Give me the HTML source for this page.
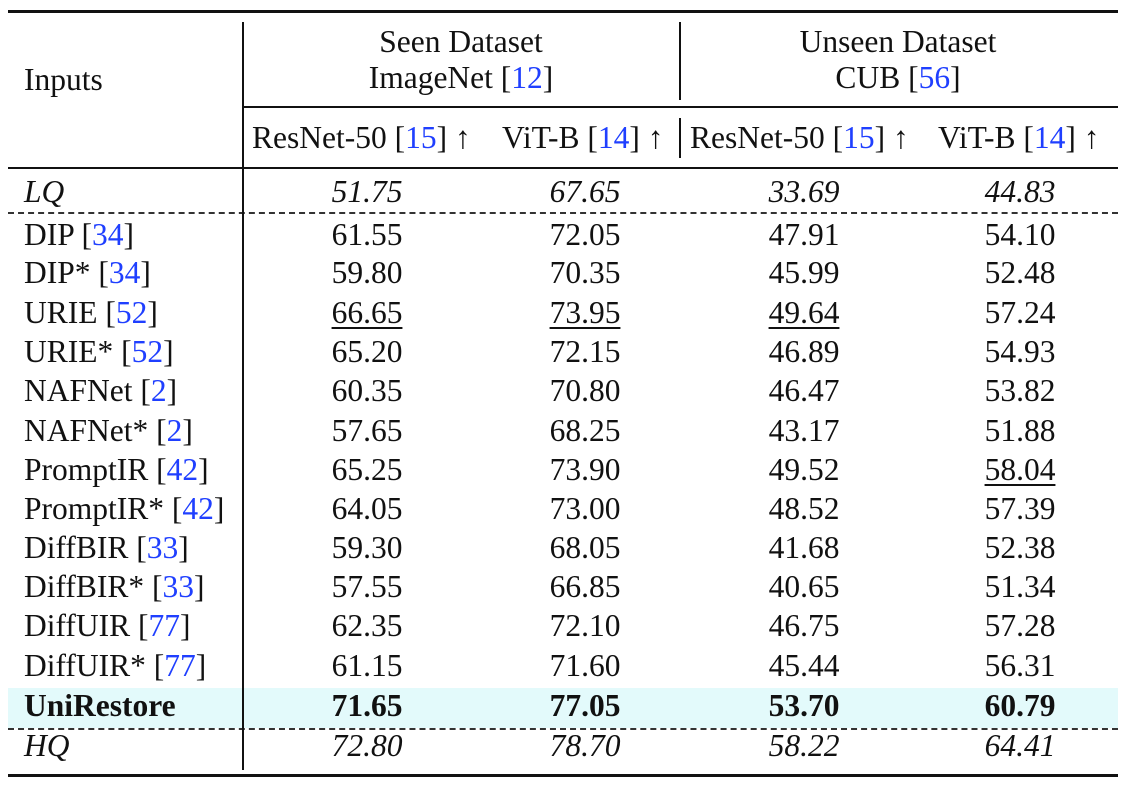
<!DOCTYPE html>
<html><head><meta charset="utf-8"><style>
body{margin:0;background:#fff;}
#t{position:relative;width:1128px;height:792px;font-family:"Liberation Serif",serif;font-size:31.5px;color:#111;overflow:hidden}
.r{position:absolute;background:#111}
.d{position:absolute;height:0;border-top:2px dashed #333}
.tx{position:absolute;white-space:nowrap;line-height:1}
.c{transform:translateX(-50%)}
.b{color:#1f3fff}
u{text-decoration-thickness:1.5px;text-underline-offset:4px}
</style></head><body>
<div id="t">
<div class="r" style="left:8px;top:10px;width:1110px;height:3px"></div>
<div class="r" style="left:243px;top:106px;width:875px;height:1.5px"></div>
<div class="r" style="left:8px;top:167px;width:1110px;height:1.5px"></div>
<div class="d" style="left:8px;top:212px;width:1110px"></div>
<div style="position:absolute;left:8px;top:688px;width:1110px;height:40px;background:#e3fafb"></div>
<div class="d" style="left:8px;top:728px;width:1110px"></div>
<div class="r" style="left:8px;top:774px;width:1110px;height:3px"></div>
<div class="r" style="left:242px;top:22px;width:1.5px;height:748px"></div>
<div class="r" style="left:679px;top:22px;width:1.5px;height:78px"></div>
<div class="r" style="left:679px;top:118px;width:1.5px;height:40px"></div>

<div class="tx" style="left:24px;top:64px">Inputs</div>
<div class="tx c" style="left:461px;top:26px">Seen Dataset</div>
<div class="tx c" style="left:461px;top:62px">ImageNet [<span class="b">12</span>]</div>
<div class="tx c" style="left:898px;top:26px">Unseen Dataset</div>
<div class="tx c" style="left:898px;top:62px">CUB [<span class="b">56</span>]</div>
<div class="tx" style="left:252px;top:122px">ResNet-50 [<span class="b">15</span>] ↑</div>
<div class="tx" style="left:502px;top:122px">ViT-B [<span class="b">14</span>] ↑</div>
<div class="tx" style="left:690px;top:122px">ResNet-50 [<span class="b">15</span>] ↑</div>
<div class="tx" style="left:938px;top:122px">ViT-B [<span class="b">14</span>] ↑</div>
</div>
<script>
const names=['<i>LQ</i>','DIP [<span class="b">34</span>]','DIP* [<span class="b">34</span>]','URIE [<span class="b">52</span>]','URIE* [<span class="b">52</span>]','NAFNet [<span class="b">2</span>]','NAFNet* [<span class="b">2</span>]','PromptIR [<span class="b">42</span>]','PromptIR* [<span class="b">42</span>]','DiffBIR [<span class="b">33</span>]','DiffBIR* [<span class="b">33</span>]','DiffUIR [<span class="b">77</span>]','DiffUIR* [<span class="b">77</span>]','<b>UniRestore</b>','<i>HQ</i>'];
const resnetSeen=['51.75','61.55','59.80','66.65','65.20','60.35','57.65','65.25','64.05','59.30','57.55','62.35','61.15','71.65','72.80'];
const vitSeen=['67.65','72.05','70.35','73.95','72.15','70.80','68.25','73.90','73.00','68.05','66.85','72.10','71.60','77.05','78.70'];
const resnetUnseen=['33.69','47.91','45.99','49.64','46.89','46.47','43.17','49.52','48.52','41.68','40.65','46.75','45.44','53.70','58.22'];
const vitUnseen=['44.83','54.10','52.48','57.24','54.93','53.82','51.88','58.04','57.39','52.38','51.34','57.28','56.31','60.79','64.41'];
const underline=[[3,0],[3,1],[3,2],[7,3]];
const cols=[resnetSeen,vitSeen,resnetUnseen,vitUnseen];
const cx=[367,585,804,1020];
const rowY=[176,219,257,297,336,375,415,454,493,532,571,610,650,690,730];
const t=document.getElementById('t');
names.forEach((n,i)=>{
  const d=document.createElement('div');d.className='tx';d.style.left='24px';d.style.top=rowY[i]+'px';d.innerHTML=n;
  
  
  t.appendChild(d);
  cols.forEach((c,j)=>{
    const e=document.createElement('div');e.className='tx c';e.style.left=cx[j]+'px';e.style.top=rowY[i]+'px';
    let v=c[i];
    if(underline.some(u=>u[0]==i&&u[1]==j))v='<u>'+v+'</u>';
    if(i==0||i==14)v='<i>'+v+'</i>';
    if(i==13)v='<b>'+v+'</b>';
    e.innerHTML=v;
    
    
    t.appendChild(e);
  });
});
</script>
</body></html>
